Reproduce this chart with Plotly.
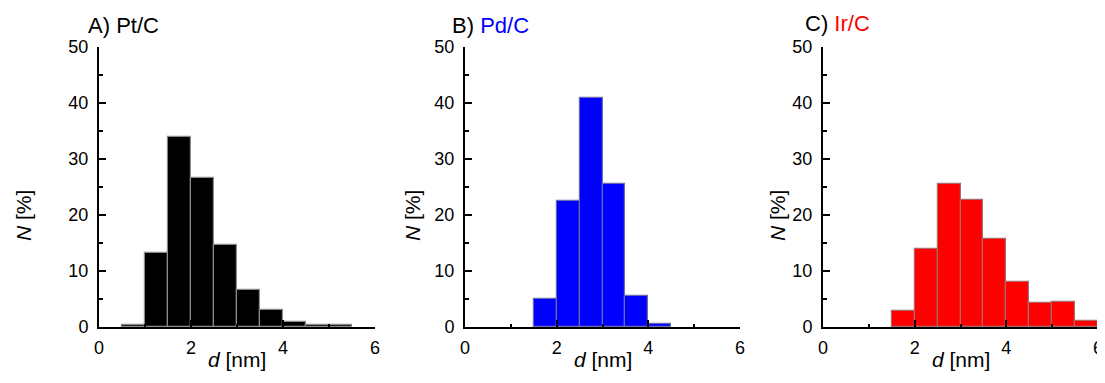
import plotly.graph_objects as go

# ---- data ----
bin_centers = [0.25, 0.75, 1.25, 1.75, 2.25, 2.75, 3.25, 3.75, 4.25, 4.75, 5.25, 5.75]
pt_values = [0, 0.4, 13.3, 33.9, 26.6, 14.7, 6.6, 3.0, 0.95, 0.4, 0.35, 0]
pd_values = [0, 0, 0, 5.0, 22.5, 40.9, 25.6, 5.5, 0.5, 0, 0, 0]
ir_values = [0, 0, 0, 2.9, 13.9, 25.6, 22.6, 15.8, 8.1, 4.3, 4.5, 1.0]
panel_letters = ["A)", "B)", "C)"]
panel_names = ["Pt/C", "Pd/C", "Ir/C"]
name_colors = ["#000000", "#0000ff", "#ff0000"]
bar_colors = ["#000000", "#0000ff", "#ff0000"]
edge_colors = ["#8a8a8a", "#6a6ab0", "#a86a6a"]
x_ticks = [0, 2, 4, 6]
y_ticks = [0, 10, 20, 30, 40, 50]

# the page body has an 8px margin, so the figure is drawn at (8, 8)
OFF = 8
W, H = 1105 - OFF, 383 - OFF
FONT = "Liberation Sans, Arial, sans-serif"

def px(v):
    return (v - OFF) / W

def py(v):
    return (H - (v - OFF)) / H

# pixel layout (window pixels)
x_left = [99, 465, 823]
x_right = [375, 740, 1098]
y_top, y_bot = 47, 327
ytitle_x = [23, 412, 777]
title_x = [86, 450, 803]
title_y = [25, 25, 23]

fig = go.Figure()
series = [pt_values, pd_values, ir_values]
for i, vals in enumerate(series):
    sfx = "" if i == 0 else str(i + 1)
    xs = [c for c, v in zip(bin_centers, vals) if v > 0]
    ys = [v for v in vals if v > 0]
    fig.add_trace(go.Bar(
        x=xs, y=ys, width=0.5,
        marker=dict(color=bar_colors[i], line=dict(color=edge_colors[i], width=1.2)),
        xaxis="x" + sfx, yaxis="y" + sfx, showlegend=False,
    ))

layout = dict(
    width=W, height=H,
    margin=dict(l=0, r=0, t=0, b=0),
    paper_bgcolor="white", plot_bgcolor="white",
    font=dict(family=FONT, color="black"),
    bargap=0,
)
ann = []
for i in range(3):
    sfx = "" if i == 0 else str(i + 1)
    layout["xaxis" + sfx] = dict(
        domain=[px(x_left[i]), px(x_right[i])],
        anchor="y" + sfx, range=[0, 6], automargin=False,
        tickvals=x_ticks, ticks="inside", ticklen=7, tickwidth=1.5, tickcolor="black",
        minor=dict(dtick=1, tick0=0, ticks="inside", ticklen=3.5, tickwidth=1.5, tickcolor="black"),
        showline=True, linewidth=2, linecolor="black", showgrid=False, zeroline=False,
        tickfont=dict(size=18, family=FONT, color="black"),
        ticklabelstandoff=3, ticklabeloverflow="allow",
        fixedrange=True,
    )
    layout["yaxis" + sfx] = dict(
        domain=[py(y_bot), py(y_top)],
        anchor="x" + sfx, range=[0, 50], automargin=False,
        tickvals=y_ticks, ticks="inside", ticklen=7, tickwidth=1.5, tickcolor="black",
        minor=dict(dtick=5, tick0=0, ticks="inside", ticklen=3.5, tickwidth=1.5, tickcolor="black"),
        showline=True, linewidth=2, linecolor="black", showgrid=False, zeroline=False,
        tickfont=dict(size=18, family=FONT, color="black"),
        ticklabelstandoff=5, ticklabeloverflow="allow",
        fixedrange=True,
    )
    # panel title
    ann.append(dict(
        text=f"{panel_letters[i]} <span style='color:{name_colors[i]}'>{panel_names[i]}</span>",
        xref="paper", yref="paper", x=px(title_x[i]), y=py(title_y[i]),
        xanchor="left", yanchor="middle", showarrow=False,
        font=dict(size=22, family=FONT, color="black"),
    ))
    # y axis title
    ann.append(dict(
        text="<i>N</i> [%]", textangle=-90,
        xref="paper", yref="paper", x=px(ytitle_x[i]), y=py(216),
        xanchor="center", yanchor="middle", showarrow=False,
        font=dict(size=21, family=FONT, color="black"),
    ))
    # x axis title
    ann.append(dict(
        text="<i>d</i> [nm]",
        xref="paper", yref="paper", x=px((x_left[i] + x_right[i]) / 2), y=py(359),
        xanchor="center", yanchor="middle", showarrow=False,
        font=dict(size=21, family=FONT, color="black"),
    ))
layout["annotations"] = ann
fig.update_layout(**layout)

fig.write_html("out.html")
